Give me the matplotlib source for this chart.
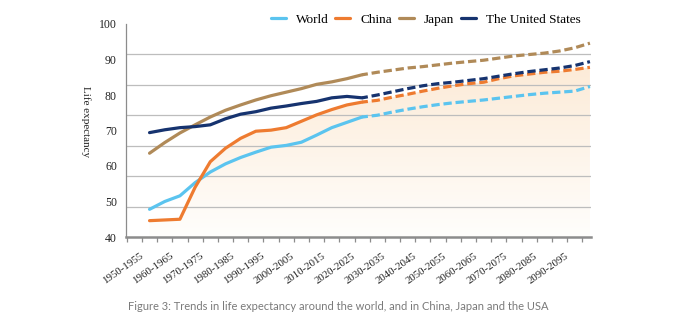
import numpy as np
import matplotlib.pyplot as plt
import matplotlib.transforms as mtransforms
from matplotlib.colors import LinearSegmentedColormap

# five-year periods, 1950-1955 through 2095-2100
periods = [f"{y}-{y + 5}" for y in range(1950, 2100, 5)]
last_observed = 14  # 2020-2025, projections from here on

world = [47.8, 50.0, 51.6, 55.3, 58.3, 60.6, 62.4, 63.9, 65.3, 65.8,
         66.7, 68.7, 70.8, 72.3, 73.8, 74.3, 75.2, 76.0, 76.7, 77.3,
         77.8, 78.2, 78.6, 79.1, 79.6, 80.1, 80.5, 80.8, 81.1, 82.4]
china = [44.6, 44.8, 45.0, 54.0, 61.2, 65.0, 67.8, 69.8, 70.1, 70.8,
         72.6, 74.4, 75.9, 77.2, 78.0, 78.5, 79.4, 80.2, 81.1, 81.9,
         82.6, 83.2, 83.6, 84.6, 85.4, 85.9, 86.4, 86.7, 87.2, 87.8]
japan = [63.6, 66.6, 69.3, 71.6, 73.8, 75.7, 77.2, 78.6, 79.8, 80.8,
         81.8, 83.0, 83.7, 84.6, 85.7, 86.4, 87.0, 87.6, 88.0, 88.5,
         89.0, 89.4, 89.8, 90.4, 91.0, 91.4, 91.8, 92.4, 93.3, 94.6]
usa = [69.4, 70.2, 70.8, 71.1, 71.6, 73.3, 74.6, 75.3, 76.3, 76.9,
       77.6, 78.2, 79.2, 79.6, 79.2, 80.0, 80.9, 81.8, 82.6, 83.2,
       83.6, 84.1, 84.6, 85.3, 86.0, 86.6, 87.1, 87.6, 88.3, 89.4]

series = {
    "World": (world, "#5BC4EF"),
    "China": (china, "#EE7B30"),
    "Japan": (japan, "#B08A58"),
    "The United States": (usa, "#16336F"),
}

serif = ["Liberation Serif", "DejaVu Serif"]

fig = plt.figure(figsize=(6.82, 3.32), dpi=100)
ax = fig.add_axes([126 / 682, 95 / 332, 464.7 / 682, 213 / 332])

x = np.arange(len(periods))
xmin, xmax = -1.55, 29.05
ymin, ymax = 40, 100

# soft orange gradient under the China curve
cmap = LinearSegmentedColormap.from_list("warm", ["#FFFEFC", "#FCEAD6"])
grad = np.linspace(0, 1, 256).reshape(-1, 1)
poly = ax.fill_between(x, china, ymin, color="none", lw=0)
im = ax.imshow(grad, extent=[xmin, xmax, ymin, 90], origin="lower",
               aspect="auto", cmap=cmap, zorder=0)
im.set_clip_path(poly.get_paths()[0], transform=ax.transData)

# gridlines split the 40-100 range into sevenths
for k in range(1, 7):
    ax.axhline(ymin + 60 * k / 7, color="#BDBDBD", lw=0.9, zorder=1)

lw = 2.3
for name, (vals, col) in series.items():
    vals = np.asarray(vals)
    ax.plot(x[:last_observed + 1], vals[:last_observed + 1], color=col,
            lw=lw, solid_capstyle="round", zorder=3, label=name)
    ax.plot(x[last_observed:], vals[last_observed:], color=col, lw=lw,
            linestyle=(0.8, (2.6, 1.2)), zorder=3)

ax.set_xlim(xmin, xmax)
ax.set_ylim(ymin, ymax)

for s in ["top", "right"]:
    ax.spines[s].set_visible(False)
ax.spines["left"].set_color("#8C8C8C")
ax.spines["left"].set_linewidth(0.9)
ax.spines["bottom"].set_color("#8C8C8C")
ax.spines["bottom"].set_linewidth(1.8)

ax.set_yticks(range(40, 101, 10))
ax.tick_params(axis="y", length=0, pad=6.5, labelsize=8.5)
for lab in ax.get_yticklabels():
    lab.set_family(serif)
    lab.set_color("#222222")

ax.set_xticks(x[::2])
ax.set_xticklabels(periods[::2], rotation=35, ha="right", va="top",
                   fontsize=7.8, family=serif, color="#222222")
ax.set_xticks(np.arange(-1.5, 29.0, 1.0), minor=True)
ax.tick_params(axis="x", which="major", length=0, pad=10.5)
ax.tick_params(axis="x", which="minor", length=3.6, width=0.9,
               color="#8C8C8C")
shift = mtransforms.ScaledTranslation(-5 / 100, 0, fig.dpi_scale_trans)
for lab in ax.get_xticklabels():
    lab.set_transform(lab.get_transform() + shift)

fig.text(86 / 682, 1 - 121.5 / 332, "Life expectancy", rotation=270,
         ha="center", va="center", fontsize=8, family=serif, color="#222222")

ax.legend(loc="center", bbox_to_anchor=(0.645, 1.02), ncol=4, frameon=False,
          prop={"family": serif, "size": 9.5}, handlelength=1.15,
          handletextpad=0.75, columnspacing=0.5, borderaxespad=0)

fig.text(128 / 682, 1 - 306.5 / 332,
         "Figure 3: Trends in life expectancy around the world, and in China, Japan and the USA",
         ha="left", va="center", fontsize=8, family=["Lato", "DejaVu Sans"],
         color="#7A7A7A")

fig.savefig("out.png", dpi=100)
